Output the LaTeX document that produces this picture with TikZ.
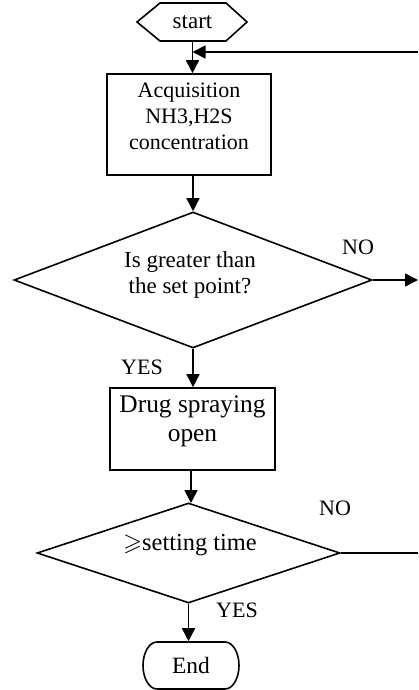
\documentclass[tikz,border=0pt]{standalone}
\usepackage{fontspec}
\usepackage{amssymb}
\setmainfont{Liberation Serif}
\usetikzlibrary{arrows.meta,shapes.geometric}
\begin{document}
\begin{tikzpicture}[x=0.5pt,y=-0.5pt, line width=0.8pt,
  conn/.style={-{Triangle[length=6.5pt,width=6.5pt]}},
  boxshape/.style={draw, rectangle, inner sep=0pt},
  decshape/.style={draw, diamond, inner sep=0pt},
  txt/.style={inner sep=0pt, align=center},
  lbl/.style={inner sep=0pt, font=\fontsize{11}{13}\selectfont}]
\useasboundingbox (0,0) rectangle (418,690);

% start (hexagon)
\node[txt, minimum width=55pt, minimum height=19pt, font=\fontsize{11.5}{13}\selectfont] (start) at (192.5,22) {start};
\draw (137,22) -- (160,3) -- (226,3) -- (247,22) -- (226,41) -- (160,41) -- cycle;

% acquisition box
\node[boxshape, minimum width=82pt, minimum height=50.5pt] (acq) at (189,124.5) {};
\node[txt, font=\fontsize{11}{13}\selectfont] (acqt) at (189,116) {Acquisition\\NH3,H2S\\concentration};

% decision 1
\node[decshape, minimum width=179pt, minimum height=68pt] (d1) at (193,280) {};
\node[txt, font=\fontsize{11.5}{13}\selectfont] (d1t) at (190,275) {Is greater than\\the set point?};

% spraying box
\node[boxshape, minimum width=82.5pt, minimum height=41pt] (spray) at (192.5,429) {};
\node[txt, font=\fontsize{12.7}{14.5}\selectfont] (sprayt) at (192.5,421) {Drug spraying\\open};

% decision 2
\node[decshape, minimum width=151.5pt, minimum height=50pt] (d2) at (188.5,553) {};
\node[txt, font=\fontsize{12.2}{14}\selectfont] (d2t) at (190,545) {$\geqslant$setting time};

% end
\node[txt, minimum width=48pt, minimum height=23.5pt, font=\fontsize{11.7}{13}\selectfont] (endn) at (191,665.5) {End};
\draw (157,642) -- (225,642) arc[start angle=90, end angle=-90, x radius=7pt, y radius=11.75pt]
      -- (157,689) arc[start angle=270, end angle=90, x radius=7pt, y radius=11.75pt] -- cycle;

% free ends
\coordinate (r1) at (418,52);
\coordinate (r2) at (418,280);
\coordinate (r3) at (418,553);

% connectors
\draw[conn] (start.south) -- (start.south |- acq.north);
\draw[conn] (r1) -- (r1 -| start.south);
\draw[conn] (acq.south -| d1.north) -- (d1.north);
\draw[conn] (d1.east) -- (r2);
\draw[conn] (d1.south) -- (d1.south |- spray.north);
\draw[conn] (spray.south -| 191,0) -- (191,503);
\draw[conn] (d2.south) -- (d2.south |- endn.north);
\draw (d2.east) -- (r3);

% labels
\node[lbl] (no1) at (358,247) {NO};
\node[lbl] (yes1) at (142,367) {YES};
\node[lbl] (no2) at (335,508) {NO};
\node[lbl] (yes2) at (237,610) {YES};
\end{tikzpicture}
\end{document}
